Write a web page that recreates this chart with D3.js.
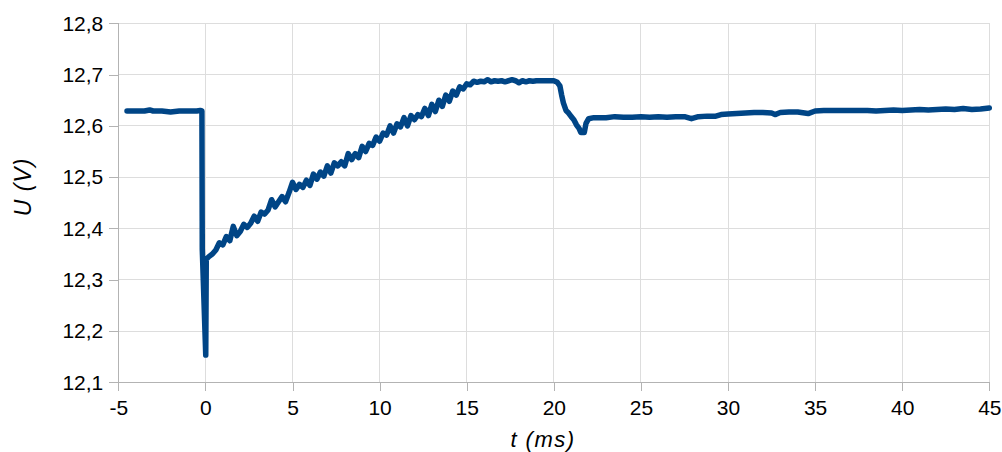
<!DOCTYPE html>
<html><head><meta charset="utf-8">
<script src="https://cdn.jsdelivr.net/npm/d3@7"></script>
<style>
html,body{margin:0;padding:0;background:#fff;}
svg{display:block;}
text{font-family:"Liberation Sans",Arial,sans-serif;fill:#000;}
</style></head>
<body>
<svg id="chart" width="1002" height="452"></svg>
<script>
// ---- data ----
const timeMs = [
  -4.5,-4,-3.5,-3.2,-3,-2.5,-2,-1.5,-1,-0.5,-0.3,-0.2,-0.18,0.02,0.05,
  0.2,0.4,0.6,0.8,1.0,1.2,1.4,1.6,1.8,2.0,2.2,2.4,2.6,2.8,3.0,3.2,3.4,3.6,3.8,4.0,
  4.2,4.4,4.6,4.8,5.0,5.2,5.4,5.6,5.8,6.0,6.2,6.4,6.6,6.8,7.0,7.2,7.4,7.6,7.8,8.0,
  8.2,8.4,8.6,8.8,9.0,9.2,9.4,9.6,9.8,10.0,10.2,10.4,10.6,10.8,11.0,11.2,11.4,11.6,11.8,12.0,
  12.2,12.4,12.6,12.8,13.0,13.2,13.4,13.6,13.8,14.0,14.2,14.4,14.6,14.8,15.0,15.2,15.4,
  15.6,15.8,16.0,16.2,16.4,16.6,16.8,17.0,17.2,17.4,17.6,17.8,18.0,18.2,18.4,18.6,18.8,19.0,19.4,19.8,20.0,20.2,
  20.35,20.45,20.55,20.7,20.85,21.0,21.15,21.3,21.45,21.55,21.75,21.85,22.0,22.3,
  22.5,23,23.5,24,24.5,25,25.5,26,26.5,27,27.5,27.9,28.3,28.8,29.3,29.6,30,30.5,31,31.5,32,32.5,32.7,33,33.5,34,34.6,
  35,35.5,36,36.5,37,37.5,38,38.5,39,39.5,40,40.5,41,41.5,42,42.5,43,43.5,44,44.5,45
];
const voltageV = [
  12.629,12.629,12.629,12.631,12.629,12.629,12.627,12.629,12.629,12.629,12.630,12.629,12.360,12.153,12.340,
  12.345,12.350,12.358,12.372,12.368,12.384,12.376,12.404,12.386,12.394,12.408,12.402,12.410,12.424,12.414,12.432,12.428,12.436,12.456,12.442,
  12.452,12.462,12.452,12.470,12.490,12.476,12.486,12.480,12.494,12.484,12.506,12.496,12.510,12.502,12.522,12.508,12.528,12.522,12.530,12.522,
  12.546,12.534,12.546,12.538,12.560,12.550,12.566,12.562,12.578,12.570,12.586,12.582,12.600,12.586,12.604,12.598,12.616,12.600,12.620,12.612,
  12.622,12.618,12.634,12.620,12.642,12.628,12.650,12.638,12.660,12.648,12.668,12.660,12.676,12.672,12.682,12.680,12.687,
  12.685,12.687,12.686,12.690,12.686,12.688,12.687,12.688,12.686,12.688,12.690,12.688,12.684,12.688,12.686,12.688,12.687,12.688,12.688,12.688,12.688,12.685,
  12.678,12.660,12.645,12.630,12.625,12.618,12.612,12.602,12.595,12.587,12.587,12.605,12.614,12.616,
  12.616,12.616,12.618,12.617,12.617,12.618,12.617,12.618,12.617,12.618,12.618,12.614,12.618,12.619,12.619,12.622,12.623,12.624,12.625,12.626,12.626,12.625,12.622,12.626,12.627,12.627,12.624,
  12.629,12.630,12.630,12.630,12.630,12.630,12.630,12.629,12.630,12.631,12.630,12.631,12.632,12.631,12.632,12.633,12.632,12.634,12.632,12.633,12.635
];
const xTicks = [-5,0,5,10,15,20,25,30,35,40,45];
const yTicks = [12.1,12.2,12.3,12.4,12.5,12.6,12.7,12.8];
const xTitle = "t (ms)";
const yTitle = "U (V)";

// ---- layout ----
const svg = d3.select("#chart");
const x = d3.scaleLinear().domain([-5,45]).range([118.3,989.3]);
const y = d3.scaleLinear().domain([12.1,12.8]).range([382.3,23.3]);
const fmt = v => d3.format(".1f")(v).replace(".", ",");

// grid
svg.append("g").selectAll("line").data(xTicks.slice(1)).join("line")
  .attr("x1",d=>x(d)).attr("x2",d=>x(d)).attr("y1",y(12.8)).attr("y2",y(12.1))
  .attr("stroke","#dddddd").attr("stroke-width",1).attr("shape-rendering","crispEdges");
svg.append("g").selectAll("line").data(yTicks.slice(1)).join("line")
  .attr("x1",x(-5)).attr("x2",x(45)).attr("y1",d=>y(d)).attr("y2",d=>y(d))
  .attr("stroke","#dddddd").attr("stroke-width",1).attr("shape-rendering","crispEdges");

// axes
const xAxis = d3.axisBottom(x).tickValues(xTicks).tickSize(9).tickPadding(9).tickFormat(d=>String(d));
const gx = svg.append("g").attr("transform",`translate(0,${y(12.1)})`).call(xAxis);
const yAxis = d3.axisLeft(y).tickValues(yTicks).tickSize(9).tickPadding(6).tickFormat(fmt);
const gy = svg.append("g").attr("transform",`translate(${x(-5)},0)`).call(yAxis);
[gx,gy].forEach(g=>{
  g.select(".domain").attr("stroke","#b3b3b3").attr("shape-rendering","crispEdges");
  g.selectAll(".tick line").attr("stroke","#b3b3b3").attr("shape-rendering","crispEdges");
  g.selectAll(".tick text").attr("font-family","Liberation Sans, Arial, sans-serif").attr("font-size",21).attr("fill","#000");
});
gy.select(".domain").attr("d",`M0,${y(12.8)}V${y(12.1)}`);
gx.select(".domain").attr("d",`M${x(-5)},0H${x(45)}`);

// line
const pts = timeMs.map((t,i)=>[t,voltageV[i]]);
svg.append("path").datum(pts)
  .attr("d",d3.line().x(d=>x(d[0])).y(d=>y(d[1])))
  .attr("fill","none").attr("stroke","#004586").attr("stroke-width",5.5)
  .attr("stroke-linejoin","round").attr("stroke-linecap","round");

// titles
svg.append("text").attr("x",543).attr("y",447).attr("text-anchor","middle")
  .attr("font-size",22).attr("font-style","italic").attr("letter-spacing","1.5px").text(xTitle);
svg.append("text").attr("transform","translate(31,187) rotate(-90)").attr("text-anchor","middle")
  .attr("font-size",23).attr("font-style","italic").attr("letter-spacing","1px").text(yTitle);
</script>
</body></html>
